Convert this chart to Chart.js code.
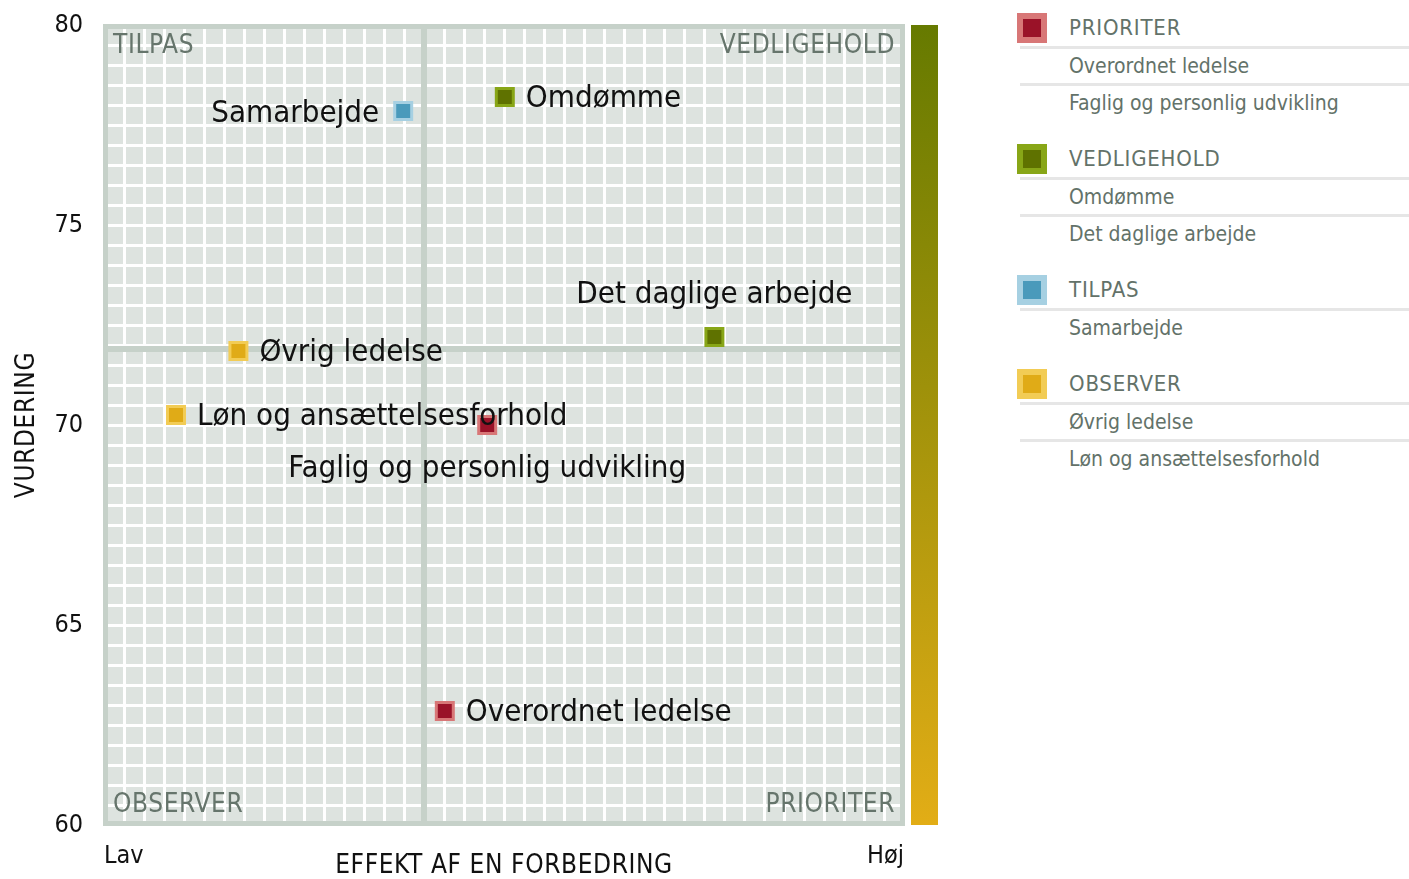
<!DOCTYPE html>
<html>
<head>
    <meta charset="utf-8">
    <title>Indsatsområder</title>
    <script src="https://cdn.jsdelivr.net/npm/chart.js@4.4.0/dist/chart.umd.min.js"></script>
    <style>
        body {
            margin: 0;
            background: #fff;
            font-family: 'DejaVu Sans Condensed', 'DejaVu Sans', sans-serif;
        }
        #wrap { position: relative; width: 1409px; height: 879px; }
        #matrix { position: absolute; left: 0; top: 0; }
        #legend { position: absolute; left: 1017px; top: 10px; width: 392px; }
        .group { margin-bottom: 21px; }
        .head, .item {
            position: relative;
            padding-left: 52px;
            font-size: 21px;
            color: #637269;
        }
        .head { height: 36px; line-height: 36px; font-size: 22px; letter-spacing: 0.8px; }
        .item { height: 34px; line-height: 34px; border-top: 3px solid #e6e6e6; margin-left: 3px; padding-left: 49px; }
        .swatch {
            position: absolute;
            left: 0; top: 3px;
            width: 18px; height: 18px;
            border: 6px solid;
        }
    </style>
</head>
<body>
<div id="wrap">
    <canvas id="matrix" width="960" height="879"></canvas>
    <div id="legend"></div>
</div>
<script>
    // data
    const categories = ['PRIORITER', 'VEDLIGEHOLD', 'TILPAS', 'OBSERVER'];
    const items = ['Overordnet ledelse', 'Faglig og personlig udvikling', 'Omdømme', 'Det daglige arbejde',
                   'Samarbejde', 'Øvrig ledelse', 'Løn og ansættelsesforhold'];
    const itemCategory = ['PRIORITER', 'PRIORITER', 'VEDLIGEHOLD', 'VEDLIGEHOLD', 'TILPAS', 'OBSERVER', 'OBSERVER'];
    const effekt = [42.6, 47.9, 50.1, 76.3, 37.4, 16.8, 9.0];       // x, 0-100
    const vurdering = [62.85, 70.0, 78.2, 72.2, 77.85, 71.85, 70.25]; // y
    const yTicks = [60, 65, 70, 75, 80];
    const xTickLabels = ['Lav', 'Høj'];
    const xSplit = 40;
    const ySplit = 71.9;

    // where each point label sits relative to its marker
    const labelPlace = ['right', 'below', 'right', 'above', 'left', 'right', 'right'];

    const fillColors = { PRIORITER: '#9a1228', VEDLIGEHOLD: '#5f7200', TILPAS: '#4a9abb', OBSERVER: '#e0ab17' };
    const edgeColors = { PRIORITER: '#d87777', VEDLIGEHOLD: '#88a617', TILPAS: '#a6d0e2', OBSERVER: '#f2cc55' };

    const FONT = "'DejaVu Sans Condensed', 'DejaVu Sans', sans-serif";

    // html legend
    const legendEl = document.getElementById('legend');
    categories.forEach(cat => {
        let html = '<div class="group"><div class="head"><span class="swatch" style="background:' + fillColors[cat] +
                   ';border-color:' + edgeColors[cat] + '"></span>' + cat + '</div>';
        items.forEach((name, i) => {
            if (itemCategory[i] === cat) html += '<div class="item">' + name + '</div>';
        });
        legendEl.innerHTML += html + '</div>';
    });

    const datasets = categories.map(cat => {
        const pts = [];
        items.forEach((name, i) => {
            if (itemCategory[i] === cat) pts.push({ x: effekt[i], y: vurdering[i] });
        });
        return {
            label: cat,
            data: pts,
            pointStyle: 'rect',
            pointRadius: 12,
            pointHoverRadius: 12,
            borderWidth: 3,
            backgroundColor: fillColors[cat],
            borderColor: edgeColors[cat]
        };
    });

    const quadrants = {
        id: 'quadrants',
        beforeDatasetsDraw(chart) {
            const { ctx, chartArea: a, scales: { x, y } } = chart;
            ctx.save();
            ctx.fillStyle = '#dde3df';
            ctx.fillRect(a.left, a.top, a.width, a.height);

            // fine white grid
            ctx.strokeStyle = '#ffffff';
            ctx.lineWidth = 3;
            ctx.beginPath();
            for (let v = y.min + 0.5; v < y.max; v += 0.5) {
                const py = Math.round(y.getPixelForValue(v)) + 0.5;
                ctx.moveTo(a.left, py); ctx.lineTo(a.right, py);
            }
            for (let v = x.min + 2.5; v < x.max; v += 2.5) {
                const px = Math.round(x.getPixelForValue(v)) + 0.5;
                ctx.moveTo(px, a.top); ctx.lineTo(px, a.bottom);
            }
            ctx.stroke();

            // quadrant dividers
            ctx.strokeStyle = '#c6d1c9';
            ctx.lineWidth = 6;
            ctx.beginPath();
            const sx = Math.round(x.getPixelForValue(xSplit)), sy = Math.round(y.getPixelForValue(ySplit));
            ctx.moveTo(sx, a.top); ctx.lineTo(sx, a.bottom);
            ctx.moveTo(a.left, sy); ctx.lineTo(a.right, sy);
            ctx.stroke();

            // frame
            ctx.lineWidth = 5;
            ctx.strokeRect(a.left + 1.5, a.top + 1.5, a.width - 3, a.height - 3);

            // colour bar at the right
            const g = ctx.createLinearGradient(0, a.top, 0, a.bottom);
            g.addColorStop(0, '#667a00');
            g.addColorStop(1, '#e2ad16');
            ctx.fillStyle = g;
            ctx.fillRect(a.right + 7, a.top, 27, a.height);

            // quadrant names
            ctx.fillStyle = '#66756c';
            ctx.font = '26px ' + FONT;
            ctx.letterSpacing = '0.6px';
            ctx.textBaseline = 'middle';
            ctx.textAlign = 'left';
            ctx.fillText('TILPAS', a.left + 9, a.top + 21);
            ctx.fillText('OBSERVER', a.left + 9, a.bottom - 20);
            ctx.textAlign = 'right';
            ctx.fillText('VEDLIGEHOLD', a.right - 9, a.top + 21);
            ctx.fillText('PRIORITER', a.right - 9, a.bottom - 20);
            ctx.restore();
        },
        afterDatasetsDraw(chart) {
            const { ctx, scales: { x, y } } = chart;
            ctx.save();
            ctx.fillStyle = '#111';
            ctx.font = '31px ' + FONT;
            ctx.textBaseline = 'middle';
            items.forEach((name, i) => {
                const px = x.getPixelForValue(effekt[i]);
                const py = y.getPixelForValue(vurdering[i]);
                const place = labelPlace[i];
                if (place === 'right') {
                    ctx.textAlign = 'left'; ctx.fillText(name, px + 21, py + 2);
                } else if (place === 'left') {
                    ctx.textAlign = 'right'; ctx.fillText(name, px - 24, py + 3);
                } else if (place === 'above') {
                    ctx.textAlign = 'center'; ctx.fillText(name, px, py - 42);
                } else {
                    ctx.textAlign = 'center'; ctx.fillText(name, px, py + 44);
                }
            });
            ctx.restore();
        },
        afterDraw(chart) {
            const { ctx, chartArea: a } = chart;
            ctx.save();
            ctx.fillStyle = '#111';
            ctx.font = '26px ' + FONT;
            ctx.letterSpacing = '0.6px';
            ctx.textAlign = 'center';
            ctx.textBaseline = 'middle';
            ctx.fillText('EFFEKT AF EN FORBEDRING', (a.left + a.right) / 2, 866);
            ctx.translate(27, (a.top + a.bottom) / 2);
            ctx.rotate(-Math.PI / 2);
            ctx.fillText('VURDERING', 0, 0);
            ctx.restore();
        }
    };

    new Chart(document.getElementById('matrix'), {
        type: 'scatter',
        data: { datasets: datasets },
        options: {
            responsive: false,
            animation: false,
            layout: { padding: { left: 0, top: 25, right: 56, bottom: 0 } },
            plugins: { legend: { display: false } },
            scales: {
                x: {
                    type: 'linear',
                    min: 0,
                    max: 100,
                    grid: { display: false, drawTicks: false },
                    border: { display: false },
                    afterBuildTicks: s => { s.ticks = [{ value: 0 }, { value: 100 }]; },
                    afterFit: s => { s.height = 54; s.paddingLeft = 0; s.paddingRight = 0; },
                    ticks: {
                        align: 'inner',
                        padding: 16,
                        color: '#111',
                        font: { family: FONT, size: 25 },
                        callback: (v, i) => xTickLabels[i]
                    }
                },
                y: {
                    min: 60,
                    max: 80,
                    grid: { display: false, drawTicks: false },
                    border: { display: false },
                    afterBuildTicks: s => { s.ticks = yTicks.map(v => ({ value: v })); },
                    afterFit: s => { s.width = 104; s.paddingTop = 0; s.paddingBottom = 0; },
                    ticks: {
                        padding: 21,
                        color: '#111',
                        font: { family: FONT, size: 25 }
                    }
                }
            }
        },
        plugins: [quadrants]
    });
</script>
</body>
</html>
